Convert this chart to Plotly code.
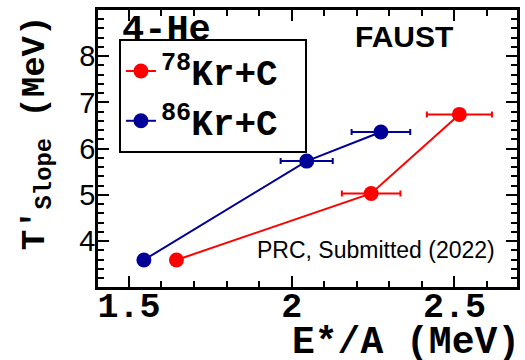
import plotly.graph_objects as go

# Apparent temperature of 4-He vs excitation energy per nucleon
kr78_ex = [1.646, 2.244, 2.515]
kr78_t = [3.59, 5.03, 6.74]
kr78_err = [0.0, 0.09, 0.10]

kr86_ex = [1.546, 2.046, 2.274]
kr86_t = [3.59, 5.73, 6.36]
kr86_err = [0.0, 0.08, 0.09]

MONO = "Liberation Mono"
SANS = "Liberation Sans"

fig = go.Figure()


def add_series(xs, ys, errs, color, name):
    fig.add_trace(go.Scatter(
        x=xs, y=ys, name=name, mode="lines+markers",
        line=dict(color=color, width=2),
        marker=dict(color=color, size=15),
        error_x=dict(type="data", array=errs, color=color, thickness=2, width=3),
    ))


add_series(kr78_ex, kr78_t, kr78_err, "#ff0000", "<sup>78</sup>Kr+C&nbsp;")
add_series(kr86_ex, kr86_t, kr86_err, "#000099", "<sup>86</sup>Kr+C&nbsp;")

axis_common = dict(
    showline=True, linecolor="black", linewidth=2.5, mirror="ticks",
    ticks="inside", ticklen=11, tickwidth=2, tickcolor="black",
    showgrid=False, zeroline=False, tickmode="linear",
)

fig.update_xaxes(
    range=[1.405, 2.692], tick0=1.5, dtick=0.5,
    tickfont=dict(family=MONO, size=35, color="black", weight="bold"),
    ticklabelstandoff=-15,
    minor=dict(dtick=0.1, tick0=1.5, ticks="inside", ticklen=6, tickwidth=2,
               tickcolor="black", showgrid=False),
    **axis_common,
)
fig.update_yaxes(
    range=[3.005, 9.0], tick0=4, dtick=1,
    tickfont=dict(family=SANS, size=29, color="black"),
    ticklabelstandoff=-6,
    minor=dict(dtick=0.2, tick0=4, ticks="inside", ticklen=6, tickwidth=2,
               tickcolor="black", showgrid=False),
    **axis_common,
)

annotations = [
    dict(text="<b>E*/A (MeV)</b>", x=1.012, y=-0.2, xanchor="right", yanchor="middle",
         font=dict(family=MONO, size=38, color="black")),
    dict(text="<b>T'<sub>Slope</sub> (MeV)</b>", x=-0.145, y=0.556, textangle=-90,
         xanchor="center", yanchor="middle",
         font=dict(family=MONO, size=34, color="black")),
    dict(text="<b>4-He</b>", x=0.052, y=1.01, xanchor="left", yanchor="top",
         font=dict(family=MONO, size=37, color="black")),
    dict(text="<b>FAUST</b>", x=0.73, y=0.903, xanchor="center", yanchor="middle",
         font=dict(family=SANS, size=30, color="black")),
    dict(text="PRC, Submitted (2022)", x=0.664, y=0.134, xanchor="center", yanchor="middle",
         font=dict(family=SANS, size=23, color="black")),
]
for a in annotations:
    a.update(xref="paper", yref="paper", showarrow=False)

fig.update_layout(
    width=525, height=360,
    margin=dict(l=98, r=5, t=10, b=73),
    paper_bgcolor="white", plot_bgcolor="white",
    annotations=annotations,
    legend=dict(
        x=0.05, y=0.895, xanchor="left", yanchor="top",
        bordercolor="black", borderwidth=2, bgcolor="white",
        font=dict(family=MONO, size=36, color="black", weight="bold"),
        tracegroupgap=0,
    ),
    showlegend=True,
)

fig.write_html("out.html")
